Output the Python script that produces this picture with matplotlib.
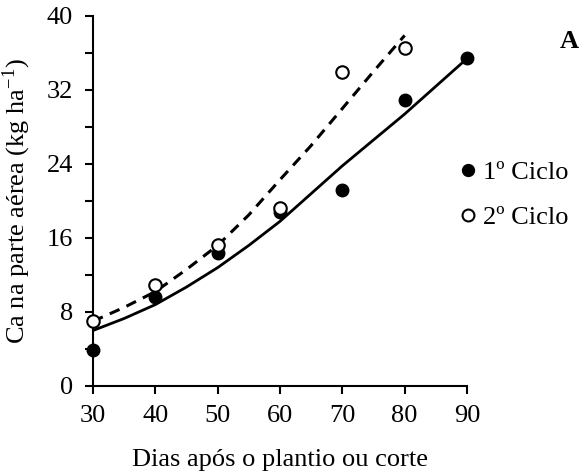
import matplotlib
matplotlib.use("Agg")
import matplotlib.pyplot as plt
import numpy as np

# dias apos o plantio ou corte
dias_1 = [30, 40, 50, 60, 70, 80, 90]
ca_1 = [3.9, 9.6, 14.4, 18.8, 21.2, 30.9, 35.5]
dias_2 = [30, 40, 50, 60, 70, 80]
ca_2 = [7.0, 10.9, 15.2, 19.2, 33.9, 36.5]

# curvas ajustadas (valores lidos a cada 5 dias)
dias_aj1 = [30, 35, 40, 45, 50, 55, 60, 65, 70, 75, 80, 85, 90]
aj_1 = [6.0, 7.3, 8.8, 10.7, 12.8, 15.2, 17.8, 20.8, 23.8, 26.6, 29.4, 32.4, 35.4]
dias_aj2 = [30, 35, 40, 45, 50, 55, 60, 65, 70, 75, 80]
aj_2 = [7.0, 8.5, 10.2, 12.6, 15.2, 18.5, 22.3, 26.0, 30.0, 34.0, 37.9]

yticks = [0, 8, 16, 24, 32, 40]
xticks = [30, 40, 50, 60, 70, 80, 90]

plt.rcParams['font.family'] = ['Liberation Serif', 'DejaVu Serif']
plt.rcParams['mathtext.fontset'] = 'stix'
fs = 19

fig = plt.figure(figsize=(5.81, 4.75), dpi=100)
ax = fig.add_axes([93/581, 1-386/475, (467-93)/581, (386-16)/475])

ax.plot(dias_aj1, aj_1, 'k-', lw=2, zorder=2, solid_capstyle='butt')
ax.plot(dias_aj2, aj_2, 'k--', lw=2.2, dashes=(3.5, 2.5), zorder=2)

ax.plot(dias_1, ca_1, 'o', color='k', ms=9, zorder=3, label='1º Ciclo', clip_on=False)
ax.plot(dias_2, ca_2, 'o', mfc='white', mec='k', mew=1.5, ms=9, zorder=4, label='2º Ciclo', clip_on=False)

ax.set_xlim(30, 90)
ax.set_ylim(0, 40)
ax.set_xticks(xticks)
ax.set_yticks(yticks)
ax.set_yticks(np.arange(4, 40, 8), minor=True)
ax.tick_params(axis='x', direction='out', width=1.5, length=6, labelsize=fs, pad=8)
ax.tick_params(axis='y', direction='out', width=1.5, length=5.5, labelsize=fs, pad=9)
ax.tick_params(axis='y', which='minor', direction='out', width=1.5, length=5.5)
for s in ['top', 'right']:
    ax.spines[s].set_visible(False)
for s in ['left', 'bottom']:
    ax.spines[s].set_linewidth(1.5)

ax.set_xlabel('Dias após o plantio ou corte', fontsize=fs)
ax.set_ylabel('Ca na parte aérea (kg ha$^{\\mathregular{-1}}$)', fontsize=fs)
ax.xaxis.set_label_coords(0.5, -0.17)
ax.yaxis.set_label_coords(-0.16, 0.5)

ax.legend(loc='center left', bbox_to_anchor=(455/581, 1-195/475), bbox_transform=fig.transFigure,
          frameon=False, fontsize=fs, handletextpad=0.05, markerscale=0.95,
          labelspacing=0.8, handlelength=1.0, borderaxespad=0, borderpad=0)
fig.text(569/581, 1-41/475, 'A', fontsize=fs, fontweight='bold', ha='center', va='center')

fig.savefig('out.png', dpi=100)
